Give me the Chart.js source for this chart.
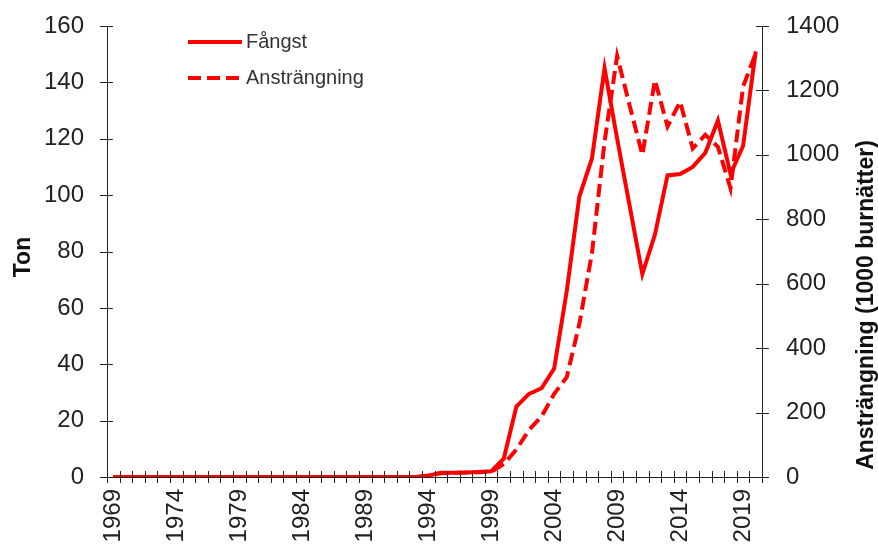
<!DOCTYPE html>
<html>
<head>
<meta charset="utf-8">
<script src="https://cdn.jsdelivr.net/npm/chart.js@4/dist/chart.umd.min.js"></script>
<style>
  html, body { margin: 0; padding: 0; background: #fff; }
  #wrap { width: 878px; height: 551px; }
</style>
</head>
<body>
<div id="wrap"><canvas id="chart" width="878" height="551"></canvas></div>
<script>
// kategorier (år)
const years = [
  "1969","1970","1971","1972","1973","1974","1975","1976","1977","1978",
  "1979","1980","1981","1982","1983","1984","1985","1986","1987","1988",
  "1989","1990","1991","1992","1993","1994","1995","1996","1997","1998",
  "1999","2000","2001","2002","2003","2004","2005","2006","2007","2008",
  "2009","2010","2011","2012","2013","2014","2015","2016","2017","2018",
  "2019","2020"
];

// Fångst, ton (vänster axel)
const fangst = [
  0, 0, 0, 0, 0, 0, 0, 0, 0, 0,
  0, 0, 0, 0, 0, 0, 0, 0, 0, 0,
  0, 0, 0, 0, 0, 0.5, 1.5, 1.5, 1.6, 1.8,
  2, 6.5, 25, 29.5, 31.5, 38.5, 66, 99.5, 113, 145,
  120, 96, 72, 86, 107, 107.5, 110, 115, 126.5, 107.5,
  117.5, 151
];

// Ansträngning, 1000 burnätter (höger axel)
const anstrangning = [
  0, 0, 0, 0, 0, 0, 0, 0, 0, 0,
  0, 0, 0, 0, 0, 0, 0, 0, 0, 0,
  0, 0, 0, 0, 0, 3, 12, 13, 14, 15,
  16, 40, 85, 146, 188, 258, 310, 475, 695, 1040,
  1307, 1152, 1000, 1232, 1088, 1165, 1020, 1062, 1025, 896,
  1212, 1315
];

const leftTicks = [0, 20, 40, 60, 80, 100, 120, 140, 160];
const rightTicks = [0, 200, 400, 600, 800, 1000, 1200, 1400];

const FONT = "'Liberation Sans', Arial, sans-serif";
const RED = "#ff0000";

// kors-streck på axlarna, axeltitlar och legend inne i diagrammet
const extras = {
  id: "extras",
  afterDraw(chart) {
    const ctx = chart.ctx;
    const a = chart.chartArea;
    const x = chart.scales.x, y = chart.scales.y, y2 = chart.scales.y2;
    ctx.save();
    ctx.strokeStyle = "#222";
    ctx.lineWidth = 1;
    ctx.beginPath();
    // x-axelns streck mellan kategorierna
    const step = x.getPixelForValue(1) - x.getPixelForValue(0);
    for (let i = 0; i <= years.length; i++) {
      const px = Math.round(x.getPixelForValue(i) - step / 2) + 0.5;
      ctx.moveTo(px, a.bottom - 6);
      ctx.lineTo(px, a.bottom + 6);
    }
    for (const v of leftTicks) {
      const py = Math.round(y.getPixelForValue(v)) + 0.5;
      ctx.moveTo(a.left - 7, py);
      ctx.lineTo(a.left + 6, py);
    }
    for (const v of rightTicks) {
      const py = Math.round(y2.getPixelForValue(v)) + 0.5;
      ctx.moveTo(a.right - 6, py);
      ctx.lineTo(a.right + 7, py);
    }
    ctx.stroke();

    // axeltitlar
    ctx.fillStyle = "#111";
    ctx.font = "bold 23px " + FONT;
    ctx.textAlign = "center";
    ctx.textBaseline = "middle";
    ctx.save();
    ctx.translate(24, 257);
    ctx.rotate(-Math.PI / 2);
    ctx.fillText("Ton", 0, 0);
    ctx.restore();
    ctx.save();
    ctx.translate(867, 305);
    ctx.rotate(-Math.PI / 2);
    ctx.fillText("Ansträngning (1000 burnätter)", 0, 0);
    ctx.restore();

    // legend
    const rows = [42, 78];
    chart.data.datasets.forEach((ds, i) => {
      ctx.save();
      ctx.strokeStyle = ds.borderColor;
      ctx.lineWidth = ds.borderWidth;
      ctx.setLineDash(ds.borderDash || []);
      ctx.beginPath();
      ctx.moveTo(188, rows[i]);
      ctx.lineTo(242, rows[i]);
      ctx.stroke();
      ctx.restore();
      ctx.fillStyle = "#333";
      ctx.font = "20px " + FONT;
      ctx.textAlign = "left";
      ctx.textBaseline = "middle";
      ctx.fillText(ds.label, 246, rows[i]);
    });
    ctx.restore();
  }
};

new Chart(document.getElementById("chart"), {
  type: "line",
  data: {
    labels: years,
    datasets: [
      {
        label: "Fångst",
        data: fangst,
        yAxisID: "y",
        borderColor: RED,
        borderWidth: 4,
        pointRadius: 0,
        tension: 0,
        fill: false
      },
      {
        label: "Ansträngning",
        data: anstrangning,
        yAxisID: "y2",
        borderColor: RED,
        borderWidth: 4,
        borderDash: [13, 6],
        pointRadius: 0,
        tension: 0,
        fill: false
      }
    ]
  },
  options: {
    responsive: false,
    animation: false,
    layout: { padding: { top: 26, left: 0, right: 0, bottom: 0 } },
    plugins: {
      legend: { display: false },
      tooltip: { enabled: false }
    },
    scales: {
      x: {
        type: "category",
        offset: true,
        grid: { display: false, drawTicks: true, tickLength: 12, offset: true },
        border: { display: true, color: "#222", width: 1 },
        ticks: {
          autoSkip: false,
          maxRotation: 90,
          minRotation: 90,
          padding: 0,
          color: "#222",
          font: { family: FONT, size: 24 },
          callback: function (val, idx) {
            return idx % 5 === 0 ? years[idx] : "";
          }
        },
        afterFit: (s) => { s.height = 74; }
      },
      y: {
        position: "left",
        min: 0,
        max: 160,
        grid: { display: false, drawTicks: true, tickLength: 23 },
        border: { display: true, color: "#222", width: 1 },
        ticks: {
          stepSize: 20,
          padding: 0,
          color: "#222",
          font: { family: FONT, size: 24 }
        },
        afterFit: (s) => { s.width = 107; }
      },
      y2: {
        position: "right",
        min: 0,
        max: 1400,
        grid: { display: false, drawTicks: true, tickLength: 24 },
        border: { display: true, color: "#222", width: 1 },
        ticks: {
          stepSize: 200,
          padding: 0,
          color: "#222",
          font: { family: FONT, size: 24 },
          callback: (v) => String(v)
        },
        afterFit: (s) => { s.width = 116; }
      }
    }
  },
  plugins: [extras]
});
</script>
</body>
</html>
